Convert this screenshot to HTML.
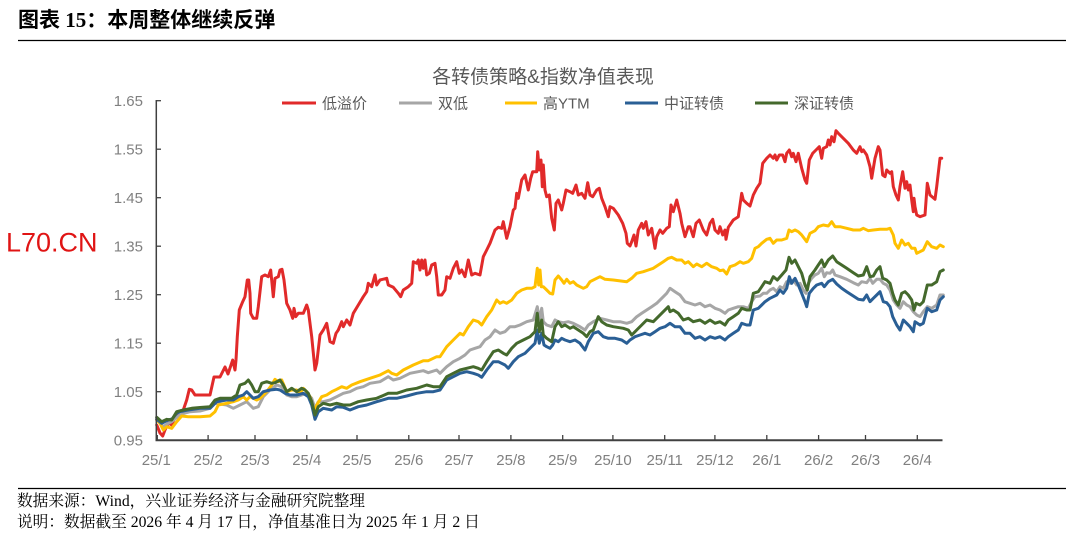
<!DOCTYPE html>
<html><head><meta charset="utf-8">
<style>
html,body{margin:0;padding:0;background:#fff;}
body{width:1066px;height:543px;overflow:hidden;}
svg{display:block;}
.t{font-family:"Liberation Sans","Noto Sans CJK SC",sans-serif;}
.s{font-family:"Liberation Serif","Noto Serif CJK SC",serif;}
</style></head>
<body>
<svg width="1066" height="543" viewBox="0 0 1066 543" xmlns="http://www.w3.org/2000/svg">
<rect width="1066" height="543" fill="#fff"/>
<text x="18" y="27" font-family="Liberation Serif, Noto Sans CJK SC, sans-serif" font-weight="bold" font-size="21" fill="#000">图表 15：本周整体继续反弹</text>
<line x1="18" y1="40.5" x2="1066" y2="40.5" stroke="#000" stroke-width="1.3"/>

<text x="543" y="83" text-anchor="middle" class="t" font-size="19" fill="#595959">各转债策略&amp;指数净值表现</text>

<!-- legend -->
<g stroke-width="3">
<line x1="282" y1="103" x2="316" y2="103" stroke="#e12a2a"/>
<line x1="399" y1="103" x2="432" y2="103" stroke="#a6a6a6"/>
<line x1="505" y1="103" x2="537" y2="103" stroke="#ffc000"/>
<line x1="625" y1="103" x2="658" y2="103" stroke="#2a5f95"/>
<line x1="755" y1="103" x2="788" y2="103" stroke="#44692c"/>
</g>
<g class="t" font-size="15" fill="#595959">
<text x="322" y="108.5">低溢价</text>
<text x="438" y="108.5">双低</text>
<text x="543" y="108.5">高YTM</text>
<text x="664" y="108.5">中证转债</text>
<text x="794" y="108.5">深证转债</text>
</g>

<text x="6" y="251.5" class="t" font-size="27" fill="#e01414">L70.CN</text>

<!-- y labels -->
<g class="t" font-size="15" fill="#808080" text-anchor="end">
<text x="143" y="106">1.65</text>
<text x="143" y="154.5">1.55</text>
<text x="143" y="203">1.45</text>
<text x="143" y="251.5">1.35</text>
<text x="143" y="300">1.25</text>
<text x="143" y="348.5">1.15</text>
<text x="143" y="397">1.05</text>
<text x="143" y="445.5">0.95</text>
</g>
<!-- x labels -->
<g class="t" font-size="15" fill="#808080" text-anchor="middle">
<text x="156.3" y="465">25/1</text>
<text x="208.1" y="465">25/2</text>
<text x="255" y="465">25/3</text>
<text x="306.8" y="465">25/4</text>
<text x="357" y="465">25/5</text>
<text x="408.8" y="465">25/6</text>
<text x="459" y="465">25/7</text>
<text x="510.9" y="465">25/8</text>
<text x="562.7" y="465">25/9</text>
<text x="612.9" y="465">25/10</text>
<text x="664.7" y="465">25/11</text>
<text x="714.9" y="465">25/12</text>
<text x="766.8" y="465">26/1</text>
<text x="818.6" y="465">26/2</text>
<text x="865.5" y="465">26/3</text>
<text x="917.3" y="465">26/4</text>
</g>

<!-- series -->
<g fill="none" stroke-width="3" stroke-linejoin="round" stroke-linecap="round">
<polyline stroke="#e12a2a" points="156.7,425 160,433 162.7,436 165,430 168.3,423 171.7,425 175,417 178.3,411.7 183.3,410 186.7,400 189.3,389.3 191.7,390 195,395 210,395 214,377 220,377 225,367 228,374 232.7,360 235,370 236,360 237.3,336.7 239.3,310 242.7,301.7 245,296.7 247.3,280 248.7,280 250,293.3 250.7,313.3 253.3,318.3 256.7,318.3 258.3,306.7 261.7,276.7 265,275 268.3,276.7 270.7,270 273.3,296.7 275,278.3 278.3,276.7 280,270 282,269.3 284,280 286.7,303.3 290,310 292.7,318.3 294,308.3 295.7,316.7 298.3,313.3 303.3,313.3 306.7,305 308.3,310 311.7,336.7 315,370 316.7,363.3 320,335 323.3,330 326.7,323.3 330,341.7 333.3,343.3 336,333.3 338.3,330 341.7,321.7 343.3,326.7 346.7,320 350,325 353.3,313.3 358.3,305 363.3,296.7 366.7,291.7 368.3,283.3 371.7,286.7 375,275 376.7,285 380,280 386.7,278.3 388.3,285 393.3,287.3 398.3,293.3 400.7,296.7 403.3,290 408.3,286.7 411.7,283.3 413.3,261.7 416.7,263.3 418.3,260 420,270 421.7,260 423.3,268.3 425,260 426.7,275 429.3,273.3 431.7,265 435,263.3 436.7,276.7 438.3,295 441.7,295 445,290 446.7,276.7 450,278.3 453.3,268.3 456.7,261.7 459.3,273.3 461.7,270 465,276.7 468.3,260 471.7,275 475,273.3 480,275 483.3,256.7 486.7,250 490,243.3 495,230 498.3,227.3 501.7,228.3 503.3,221.7 506.7,238.3 510,226.7 513.3,210 515,208.3 516.7,193.3 518.3,198.3 521.7,180 525,175 528.3,190 530.7,178.3 532.7,171.7 536.7,171.7 537.7,151.7 539.3,170 541,160 542.3,186.7 543.3,165 545,190 546.7,196.7 549.3,195 551.7,218.3 554.3,230 556,203.3 558.3,200 561.7,210 563.3,203.3 566,190 570,191.7 572.7,193.3 576,185 578.3,195 581.7,193.3 585,198.3 587.7,182.7 590,195 592.7,196.7 596.7,190 599.3,188.3 601.7,198.3 605,206.7 608.3,216.7 610,206.7 613.3,208.3 618.3,215 622.7,223.3 626,233.3 627.3,243.3 630,246 631.7,241.7 634,235 636,246 638.3,230 641.7,223.3 643.3,228.3 646,221.7 648.3,235 651.7,228.3 655,248.3 656.7,236.7 660,230 662.7,233.3 666.7,228.3 669.3,226.7 671,205 673.3,211.7 676.7,200 680,213.3 681.7,223.3 685,236.7 688.3,226.7 690,226.7 693.3,236.7 696,223.3 699.3,220 703.3,230 706.7,235 710,223.3 712.7,219.3 715,230 718.3,233.3 720,226.7 722.7,235 725,230 726,239.3 728.3,227.3 733.3,220 738.3,216.7 741.7,193.3 743.3,200 746.7,203.3 750,206 753.3,195 756.7,188.3 760,183.3 762.7,163.3 766.7,158.3 770,155 773.3,158.3 775,155 776.7,160 779.3,155 782.7,155 785,161.7 786.7,153.3 789.3,150 791.7,156.7 793.3,153.3 796,161.7 798.3,153.3 801.7,168.3 805,180 806.7,183.3 809.3,160 812.7,153.3 816,150 819.3,146.7 821.7,158.3 823.3,148.3 826.7,146.7 828.3,140 830,145 831.7,136.7 834,141.7 836,130.7 838.3,133.3 843.3,138.3 848.3,143.3 853.3,150 856.7,153.3 860,146.7 861.7,151.7 863.3,150 866.7,155 870,166.7 871.7,178.3 875,158.3 878.3,146.7 880,150 882.7,175 885,176.7 886.7,170 890,173.3 891.7,171.7 893.3,186.7 896,195 898.3,200 900,186.7 902.7,171.7 905,188.3 906.7,181.7 908.3,190 910,185 911.7,200 913.3,211.7 914,198.3 915,206.7 916.7,215 920,216.7 925,215 927.3,183.3 930,195 935,199.3 936.7,186.7 940,158.3 941.7,158.3"/>
<polyline stroke="#a6a6a6" points="156.7,418.3 160,423 163.3,426.7 167,424 171.7,421.7 176,418 180,415 185,413 190,411.7 200,411 210,408.3 215,403.3 220,404 226.7,405 233.3,408.3 240,405 246.7,401.7 250,405 253.3,408.3 258.3,406.7 263.3,396.7 270,390 276.7,385 281.7,386.7 286.7,395 291.7,396.7 296.7,396.7 301.7,395 306.7,393.3 311.7,398.3 315,408.3 318.3,401.7 323.3,401.7 330,400 336.7,396.7 343.3,393.3 350,391.7 356.7,388.3 363.3,386.7 370,383.3 380,381.7 388.3,376.7 393.3,380 400,378.3 410,373.3 423.3,370.7 428.3,372.7 436.7,370 440,373.3 446.7,366.7 453.3,361.7 460,358.3 465,355 470,350 475,348.3 480,346.7 485,340 490,336.7 495,330 500,333.3 505,331.7 510,326.7 515,326.7 520,325 526.7,321.7 533.3,320 537.3,306.7 539.3,320 541.7,308.3 543.3,321.7 546.7,325 551.7,326.7 555,320 558.3,321.7 563.3,322.7 568.3,321.7 573.3,323.3 580,326.7 585,330 588.3,325 593.3,321.7 600,318.3 606.7,320 613.3,321.7 620,321.7 626.7,323.3 631.7,321.7 636.7,316.7 641.7,313.3 646.7,310 651.7,306.7 656.7,303.3 661.7,298.3 666.7,293.3 670,288.3 675,291.7 680,295 685,301.7 690,303.3 695,305 700,303.3 705,306.7 710,305 715,308.3 720,310 725,313.3 728.3,310 733.3,308.3 738.3,306.7 743.3,306.7 748.3,308.3 751.7,301.7 755,296.7 760,296 763.3,293.3 766.7,293.3 770,290 773.3,288.3 776.7,291.7 780,286.7 783.3,288.3 786.7,281.7 790,283.3 793.3,280 796.7,285 800,283.3 803.3,290 806,293.3 808.3,283.3 811.7,278.3 815,275 818.3,273.3 821.7,268.3 824.3,276.7 826.7,272.7 830,273.3 832.7,270 835,275 840,276.7 846.7,279.3 853.3,282.7 858.3,285 861.7,281.7 866.7,282.7 870,278.3 872.7,283.3 876.7,279.3 880,279.3 883.3,283.3 886.7,285 890,290 893.3,300 896.7,305 900,308.3 903.3,301.7 906.7,305 910,306.7 913.3,311.7 916.7,315 920,316.7 923.3,311.7 927.3,306.7 931.7,308.3 936.7,305 940,295 943.3,295"/>
<polyline stroke="#ffc000" points="156.7,420 160,423.3 163.3,430 166.7,426.7 171.7,428.3 176.7,421.7 181.7,416 188.3,416.7 200,416.7 210,416 215,411.7 218.3,405 226.7,403.3 233.3,401.7 238.3,400 243.3,396.7 246.7,400 250,396.7 256.7,400 260,398.3 266.7,391.7 271.7,385 275,379.3 278.3,381.7 281.7,380 286.7,391.7 291.7,390 296.7,390 300,393.3 303.3,388.3 306.7,391.7 310,396.7 314.3,411.7 316.7,405 321.7,396.7 326.7,395 331.7,391.7 336.7,389.3 341.7,386.7 346.7,388.3 351.7,385 360,381.7 370,378.3 380,375 388.3,370.7 391.7,373.3 396.7,375 403.3,370 413.3,365 423.3,360.7 428.3,360.7 436.7,356.7 440,356.7 446.7,346.7 453.3,340 460,333.3 463.3,335 468.3,326.7 473.3,320 478.3,321.7 481.7,325 486.7,316.7 491.7,310 496.7,300 500,303.3 503.3,301.7 506.7,303.3 511.7,300 516.7,293.3 521.7,290 526.7,288.3 531.7,288.3 535,286.7 537.3,268.3 538.7,285 540,270 541.3,286.7 543.3,286.7 546.7,290 550,293.3 552.7,294 555,280 558.3,276 561.7,280 564,283.3 566.7,279.3 570,283.3 573.3,281.7 576.7,285 580,286.7 583.3,288.3 586.7,286.7 590,281.7 596.7,278.3 600,276.7 605,279.3 613.3,280 626.7,281.7 631.7,278.3 636.7,273.3 643.3,271.7 648.3,270 653.3,268.3 658.3,265 663.3,261.7 668.3,258.3 671.7,257.3 676.7,260 681.7,260 685,263.3 688.3,261.7 693.3,266.7 696.7,264 701.7,266.7 706.7,263.3 711.7,266.7 716.7,268.3 720,270.7 723.3,270 726.7,274 730,266.7 735,265 740,261.7 743.3,263.3 748.3,261.7 751.7,258.3 755,248.3 758.3,246.7 761.7,243.3 766.7,239.3 770,238.3 773.3,243.3 776.7,240 781.7,240 786.7,238.3 789,230 791.7,231.7 795,230 798.3,231.7 801.7,235 806.7,241.7 810,233.3 815,230.7 818.3,226.7 823.3,225 828.3,226 831.7,221.7 835,226.7 840,226.7 846.7,228.3 853.3,230 860,230 863.3,228.3 868.3,230.7 873.3,230 880,229.3 886.7,229.3 890,228.3 893.3,235 895,243.3 898.3,248.3 901.7,240 905,245 908.3,243.3 911.7,248.3 915,248.3 916.7,253.3 920,251.7 923.3,250 927.3,241.7 931.7,246.7 936.7,248.3 940,245 943.3,246.7"/>
<polyline stroke="#2a5f95" points="156.7,419.3 161.7,423.3 165,421.5 168.3,420 172,419 176.7,413.3 180,411.7 186.7,410.3 200,408.3 210,408.3 216.7,401.7 226.7,400 233.3,400 238.3,396.7 243.3,395 246.7,391.7 250,395 253.3,398.3 258.3,396.7 263.3,391.7 270,390 276.7,389.3 280,390 285,393.3 290,395 296.7,395 303.3,393.3 308.3,396.7 311.7,405 315,419.3 318.3,411.7 323.3,408.3 331.7,410 336.7,406.7 343.3,407.3 350,410 358.3,406.7 366.7,405 376.7,401.7 388.3,398.3 396.7,398.3 406.7,396 416.7,393.3 426.7,391.7 433.3,391.7 440,390 446.7,380 453.3,376.7 460,373.3 466.7,371.7 473.3,373.3 478.3,375 481.7,377.3 486.7,370 493.3,361.7 498.3,361.7 505,365 508.3,368.3 513.3,361.7 518.3,356.7 525,353.3 530,348.3 535,343.3 537.3,330 539.3,343.3 541.7,333.3 544,345 546.7,346.7 550,348.3 552.7,345 555,340 558.3,341.7 561.7,338.3 565,340 570,341.7 575,340 580,343.3 585,350 588.3,341.7 593.3,333.3 598.3,331.7 603.3,336.7 608.3,338.3 615,338.3 621.7,340 626.7,343.3 630,340 635,336.7 640,335 645,333.3 650,335 655,331.7 660,328.3 665,326.7 670,323.3 675,326.7 680,326.7 685,333.3 690,333.3 695,338.3 700,336.7 705,340 710,336.7 715,338.3 720,336.7 725,340 728.3,336.7 733.3,333.3 738.3,330 741.7,323.3 746.7,325 750,325 753.3,310 758.3,308.3 761.7,305 765,301.7 770,298.3 773.3,296.7 776.7,295 780,290 783.3,293.3 786.7,288.3 789.3,276.7 791.7,283.3 795,278.3 798.3,285 801.7,293.3 805,301.7 806.7,306.7 809.3,293.3 813.3,288.3 816.7,285 821.7,283.3 824.3,286.7 828.3,281.7 832.7,279.3 836.7,284 841.7,288.3 846.7,291.7 853.3,296 858.3,299.3 863.3,300 866.7,295 870,301.7 873.3,298.3 876.7,295 880,291.7 883.3,301.7 886.7,302.7 890,306.7 892.7,316.7 896.7,325 900,330 903.3,320 906.7,323.3 910,326.7 913.3,331.7 915,321.7 920,325 923.3,323.3 927.3,308.3 931.7,311.7 936.7,310 940,300 943.3,296.7"/>
<polyline stroke="#44692c" points="156.7,417.3 161.7,421.7 166.7,419.3 171.7,420 176.7,411.7 183.3,410 191.7,408.3 200,407.5 210,406.7 215,400 220,398.3 231.7,398.3 236.7,395 240,385 245,383.3 248.3,380 251.7,385 255,391.7 258.3,391.7 261.7,383.3 266.7,381.7 271.7,383.3 275,382.7 280,380 283.3,385 286.7,391.7 291.7,388.3 296.7,391.7 301.7,388.3 305,390 308.3,393.3 311.7,401.7 315,415 318.3,406.7 323.3,403.3 330,405 336.7,403.3 343.3,405 350,405 358.3,401.7 366.7,400 376.7,398.3 388.3,393.3 396.7,393.3 406.7,390 416.7,388.3 426.7,385 433.3,386.7 440,386.7 446.7,376.7 453.3,373.3 460,370 466.7,368.3 473.3,366.7 478.3,368.3 481.7,370 486.7,361.7 493.3,351.7 498.3,350 503.3,353.3 506.7,355 511.7,348.3 516.7,343.3 523.3,340 530,336.7 535,331.7 537.3,313.3 539.3,331.7 541.7,320 543.3,335 546.7,338.3 551.7,341.7 555,326.7 558.3,321.7 561.7,326.7 565,325 570,328.3 573.3,326.7 578.3,330 583.3,333.3 586.7,336.7 590,331.7 593.3,330 598.3,316.7 601.7,321.7 606.7,325 613.3,326.7 623.3,328.3 628.3,330 631.7,335 636.7,330 641.7,325 646.7,320 653.3,321.7 658.3,316.7 663.3,311.7 668.3,306.7 670,311.7 673.3,310 678.3,313.3 683.3,320 688.3,318.3 693.3,321.7 700,320 705,323.3 710,320 715,323.3 720,321.7 725,325 728.3,320 733.3,316.7 738.3,313.3 741.7,308.3 746.7,310 750,310 753.3,293.3 758.3,291.7 761.7,286.7 765,281.7 770,283.3 773.3,276.7 777.3,280 781.7,275 786,270 789,257.3 791.7,263.3 795,260 798.3,266.7 801.7,273.3 805,285 807.3,290 810,276.7 815,270 818.3,265 821.7,260 824.3,266.7 828.3,260 832.7,256 836.7,261.7 841.7,265 846.7,268.3 853.3,272.7 858.3,276 863.3,275 866.7,266.7 870,276.7 873.3,276 876.7,270 880,266.7 882.7,278.3 886.7,280 890,283.3 892.7,293.3 895,300 898.3,305 901.7,293.3 905,291.7 908.3,295 911.7,300 914,310 916,303.3 920,305 923.3,301.7 927.3,285 931.7,285 936.7,281.7 940,271.7 943.3,270"/>
</g>

<!-- axes -->
<line x1="156.3" y1="100" x2="156.3" y2="440.5" stroke="#404040" stroke-width="1.5"/>
<g stroke="#404040" stroke-width="1.3">
<line x1="156" y1="100.7" x2="161" y2="100.7"/>
<line x1="156" y1="149.2" x2="161" y2="149.2"/>
<line x1="156" y1="197.7" x2="161" y2="197.7"/>
<line x1="156" y1="246.2" x2="161" y2="246.2"/>
<line x1="156" y1="294.7" x2="161" y2="294.7"/>
<line x1="156" y1="343.2" x2="161" y2="343.2"/>
<line x1="156" y1="391.7" x2="161" y2="391.7"/>
</g>
<line x1="155.5" y1="440.3" x2="942.5" y2="440.3" stroke="#404040" stroke-width="2"/>
<g stroke="#404040" stroke-width="1.3">
<line x1="157.3" y1="440" x2="157.3" y2="435"/>
<line x1="208.1" y1="440" x2="208.1" y2="435"/>
<line x1="255" y1="440" x2="255" y2="435"/>
<line x1="306.8" y1="440" x2="306.8" y2="435"/>
<line x1="357" y1="440" x2="357" y2="435"/>
<line x1="408.8" y1="440" x2="408.8" y2="435"/>
<line x1="459" y1="440" x2="459" y2="435"/>
<line x1="510.9" y1="440" x2="510.9" y2="435"/>
<line x1="562.7" y1="440" x2="562.7" y2="435"/>
<line x1="612.9" y1="440" x2="612.9" y2="435"/>
<line x1="664.7" y1="440" x2="664.7" y2="435"/>
<line x1="714.9" y1="440" x2="714.9" y2="435"/>
<line x1="766.8" y1="440" x2="766.8" y2="435"/>
<line x1="818.6" y1="440" x2="818.6" y2="435"/>
<line x1="865.5" y1="440" x2="865.5" y2="435"/>
<line x1="917.3" y1="440" x2="917.3" y2="435"/>
</g>

<!-- footer -->
<line x1="18" y1="488.5" x2="1066" y2="488.5" stroke="#000" stroke-width="1.2"/>
<g class="s" font-size="15.7" fill="#000">
<text x="17" y="506">数据来源：Wind，兴业证券经济与金融研究院整理</text>
<text x="17" y="527">说明：数据截至 2026 年 4 月 17 日，净值基准日为 2025 年 1 月 2 日</text>
</g>
</svg>
</body></html>
